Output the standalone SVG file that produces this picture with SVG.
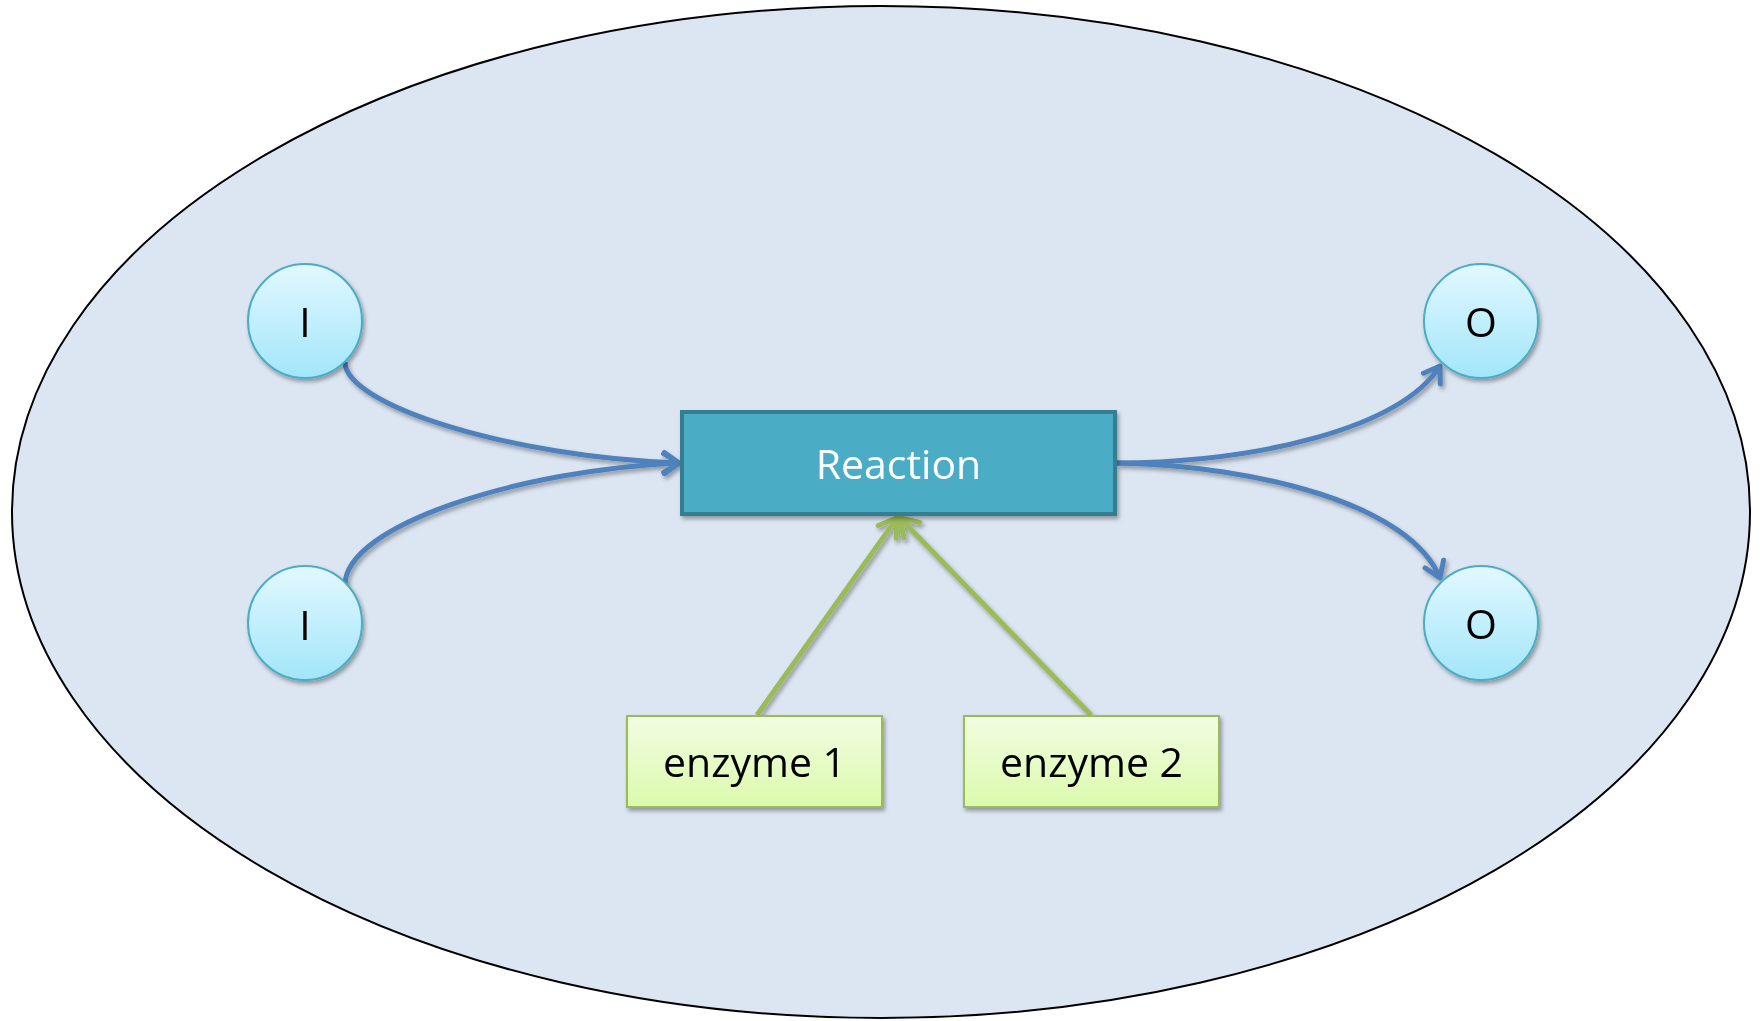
<svg xmlns="http://www.w3.org/2000/svg" width="1762" height="1021" viewBox="0 0 1762 1021">
  <defs>
    <style>
      .label { font-family: "Open Sans", "Liberation Sans", sans-serif; font-size: 41px; text-anchor: middle; fill: #000; }
      .place { fill: url(#placeFill); stroke: #4BACC6; stroke-width: 2; }
      .enzyme { fill: url(#enzymeFill); stroke: #9BBB59; stroke-width: 2; }
      .flow { fill: none; stroke: #4F81BD; stroke-width: 5; marker-end: url(#blueHead); }
      .catalysis { fill: none; stroke: #9BBB59; stroke-width: 5; marker-end: url(#greenHead); }
    </style>
    <linearGradient id="placeFill" x1="0" y1="0" x2="0" y2="1">
      <stop offset="0" stop-color="#E2F8FF"/>
      <stop offset="1" stop-color="#A2E6FA"/>
    </linearGradient>
    <linearGradient id="enzymeFill" x1="0" y1="0" x2="0" y2="1">
      <stop offset="0" stop-color="#F2FCE2"/>
      <stop offset="1" stop-color="#DBFAAC"/>
    </linearGradient>
    <filter id="shadow" x="-20%" y="-20%" width="140%" height="140%">
      <feDropShadow dx="2" dy="3" stdDeviation="2" flood-color="#000" flood-opacity="0.35"/>
    </filter>
    <marker id="blueHead" markerUnits="userSpaceOnUse" markerWidth="40" markerHeight="40" refX="0" refY="0" orient="auto" overflow="visible">
      <path d="M-15,-10 L0,0 L-15,10" fill="none" stroke="#4F81BD" stroke-width="5" stroke-linecap="round" stroke-linejoin="round"/>
    </marker>
    <marker id="greenHead" markerUnits="userSpaceOnUse" markerWidth="40" markerHeight="40" refX="0" refY="0" orient="auto" overflow="visible">
      <path d="M-17,-11 L0,0 L-17,11" fill="none" stroke="#9BBB59" stroke-width="5" stroke-linecap="round" stroke-linejoin="round"/>
    </marker>
  </defs>

  <!-- cell boundary -->
  <ellipse id="cell" cx="881" cy="512" rx="869" ry="506" fill="#DCE6F2" stroke="#000" stroke-width="2"/>

  <!-- arcs between places, transition and enzymes -->
  <g id="connectors" filter="url(#shadow)">
    <path class="flow" d="M345,362 C345,405 510,457 679,463"/>
    <path class="flow" d="M345,585 C345,525 520,470 679,463"/>
    <path class="flow" d="M1117,463 C1260,462 1400,428 1440,366"/>
    <path class="flow" d="M1117,463 C1260,466 1410,505 1440,578"/>
    <path class="catalysis" d="M757,715 L897,518"/>
    <path class="catalysis" d="M1091,715 L900,518"/>
  </g>

  <g id="input1" filter="url(#shadow)">
    <circle class="place" cx="305" cy="321" r="57"/>
    <text class="label" x="305" y="337">I</text>
  </g>
  <g id="input2" filter="url(#shadow)">
    <circle class="place" cx="305" cy="623" r="57"/>
    <text class="label" x="305" y="640">I</text>
  </g>
  <g id="output1" filter="url(#shadow)">
    <circle class="place" cx="1481" cy="321" r="57"/>
    <text class="label" x="1481" y="337">O</text>
  </g>
  <g id="output2" filter="url(#shadow)">
    <circle class="place" cx="1481" cy="623" r="57"/>
    <text class="label" x="1481" y="639">O</text>
  </g>

  <g id="reaction" filter="url(#shadow)">
    <rect x="682" y="412" width="433" height="102" fill="#4BACC6" stroke="#357D91" stroke-width="4"/>
    <text class="label" x="898.5" y="479" style="fill:#FFFFFF">Reaction</text>
  </g>

  <g id="enzyme1" filter="url(#shadow)">
    <rect class="enzyme" x="627" y="716" width="255" height="91"/>
    <text class="label" x="754.5" y="777">enzyme 1</text>
  </g>
  <g id="enzyme2" filter="url(#shadow)">
    <rect class="enzyme" x="964" y="716" width="255" height="91"/>
    <text class="label" x="1091.5" y="777">enzyme 2</text>
  </g>
</svg>
